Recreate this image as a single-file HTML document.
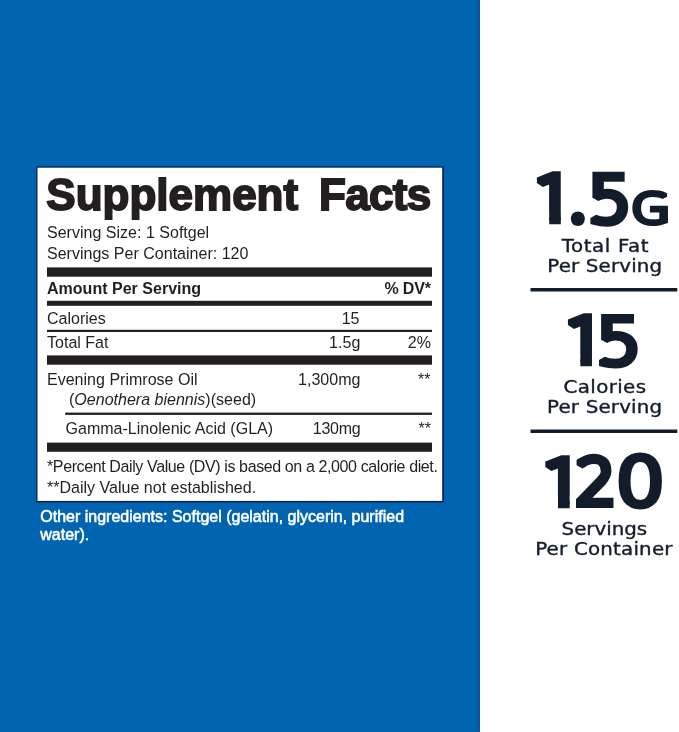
<!DOCTYPE html>
<html lang="en">
<head>
<meta charset="utf-8">
<title>Supplement Facts</title>
<style>
html,body{margin:0;padding:0;}
body{width:679px;height:732px;position:relative;overflow:hidden;background:#ffffff;font-family:"Liberation Sans",sans-serif;}
.blue{position:absolute;left:0;top:0;width:480.2px;height:732px;background:#0064b1;}
.edge{position:absolute;left:475.5px;top:0;width:4.7px;height:732px;background:linear-gradient(90deg,rgba(16,70,140,0) 0%,rgba(16,70,140,0.35) 40%,rgba(16,70,140,0.45) 100%);}
.shapes{position:absolute;left:0;top:0;}
.t{position:absolute;white-space:nowrap;line-height:1;color:#231f20;font-size:16.05px;transform:translateY(-0.35px) scaleY(1.02);transform-origin:0 84.6%;}
.r{text-align:right;}
.b{font-weight:bold;}
.title{transform:scaleY(1.025);font-weight:bold;font-size:44px;-webkit-text-stroke:1.8px #231f20;}
.other{color:#ffffff;font-size:16px;-webkit-text-stroke:0.55px #ffffff;transform:translateY(-0.6px) scaleY(1.08);}
</style>
</head>
<body>
<div class="blue"></div><div class="edge"></div>
<svg class="shapes" width="679" height="732" viewBox="0 0 679 732">
<rect x="36.2" y="166.3" width="407.8" height="336.2" fill="#0b2552"/>
<rect x="37.5" y="167.7" width="404.7" height="333.2" fill="#ffffff"/>
<g fill="#231f20">
<rect x="47" y="267.4" width="385" height="9.3"/>
<rect x="47" y="300.8" width="385" height="5"/>
<rect x="47" y="329.8" width="385" height="2.2"/>
<rect x="47" y="355.4" width="385" height="9.3"/>
<rect x="65.2" y="412.6" width="366.8" height="2.3"/>
<rect x="47" y="442.6" width="385" height="9.2"/>
</g>
<g fill="#131c2b">
<rect x="530.5" y="288" width="146.8" height="3.5"/>
<rect x="530.5" y="429.5" width="146.8" height="3.5"/>
</g>
</svg>

<div class="t title" id="t1" style="left:46.35px;top:173px;">Supplement</div>
<div class="t title" id="t2" style="left:319px;top:173px;letter-spacing:-0.7px;">Facts</div>

<div class="t" id="l1" style="left:47px;top:224.3px;">Serving Size: 1 Softgel</div>
<div class="t" id="l2" style="left:47px;top:244.7px;">Servings Per Container: 120</div>

<div class="t b" id="l3" style="left:47px;top:280.2px;">Amount Per Serving</div>
<div class="t b r" id="l3b" style="right:248.3px;top:280.2px;letter-spacing:-0.2px;">% DV*</div>

<div class="t" id="l4" style="left:47px;top:310px;">Calories</div>
<div class="t r" id="l4b" style="right:319.5px;top:310px;">15</div>
<div class="t" id="l5" style="left:47px;top:334.3px;">Total Fat</div>
<div class="t r" id="l5b" style="right:318.7px;top:334.3px;">1.5g</div>
<div class="t r" id="l5c" style="right:248px;top:334.3px;">2%</div>

<div class="t" id="l6" style="left:47px;top:371px;">Evening Primrose Oil</div>
<div class="t r" id="l6b" style="right:318.6px;top:371px;">1,300mg</div>
<div class="t r" id="l6c" style="right:248.5px;top:371px;">**</div>
<div class="t" id="l7" style="left:69px;top:391px;">(<i>Oenothera biennis</i>)(seed)</div>
<div class="t" id="l8" style="left:65.5px;top:420px;">Gamma-Linolenic Acid (GLA)</div>
<div class="t r" id="l8b" style="right:318.7px;top:420px;letter-spacing:-0.3px;">130mg</div>
<div class="t r" id="l8c" style="right:248px;top:420px;">**</div>

<div class="t" id="l9" style="left:47px;top:458.2px;letter-spacing:-0.4px;">*Percent Daily Value (DV) is based on a 2,000 calorie diet.</div>
<div class="t" id="l10" style="left:47px;top:479.4px;">**Daily Value not established.</div>

<div class="t other" id="o1" style="left:40.3px;top:510px;">Other ingredients: Softgel (gelatin, glycerin, purified</div>
<div class="t other" id="o2" style="left:40.3px;top:528.2px;">water).</div>

<svg class="shapes nums" width="679" height="732" viewBox="0 0 679 732">
<defs><clipPath id="k0"><rect x="507.00" y="141.75" width="90" height="71.26"/><rect x="549.21" y="212.01" width="11.61" height="40"/></clipPath><clipPath id="k1"><ellipse cx="577.85" cy="218.75" rx="7.00" ry="7.30"/></clipPath><clipPath id="k4"><rect x="538.00" y="284.00" width="90" height="71.08"/><rect x="580.34" y="354.08" width="11.63" height="40"/></clipPath><clipPath id="k6"><rect x="515.40" y="425.45" width="90" height="70.97"/><rect x="558.01" y="495.42" width="11.66" height="40"/></clipPath></defs>
<g fill="#131c2b" stroke="#131c2b" stroke-miterlimit="1.5" style="vector-effect:non-scaling-stroke">
<g id="b1"><g clip-path="url(#k0)"><text vector-effect="non-scaling-stroke" transform="translate(534.56,220.33) scale(1.0195,1.0118)" font-family="'DejaVu Sans Light','DejaVu Sans',sans-serif" font-weight="200" font-size="60" stroke-width="8.64" stroke-linejoin="miter">1</text></g><g clip-path="url(#k1)"><text vector-effect="non-scaling-stroke" transform="translate(543.02,224.55) scale(3.6667,3.0933)" font-family="'DejaVu Sans Light','DejaVu Sans',sans-serif" font-weight="200" font-size="60" stroke-width="6.00" stroke-linejoin="miter">.</text></g><text vector-effect="non-scaling-stroke" transform="translate(587.38,221.55) scale(1.1665,1.0541)" font-family="'DejaVu Sans Light','DejaVu Sans',sans-serif" font-weight="200" font-size="60" stroke-width="7.66" stroke-linejoin="miter">5</text><text vector-effect="non-scaling-stroke" transform="translate(631.31,222.51) scale(0.8373,0.6779)" font-family="'DejaVu Sans Light','DejaVu Sans',sans-serif" font-weight="200" font-size="60" stroke-width="5.69" stroke-linejoin="miter">G</text></g>
<g id="b2"><g clip-path="url(#k4)"><text vector-effect="non-scaling-stroke" transform="translate(565.49,362.39) scale(1.0302,1.0074)" font-family="'DejaVu Sans Light','DejaVu Sans',sans-serif" font-weight="200" font-size="60" stroke-width="8.63" stroke-linejoin="miter">1</text></g><text vector-effect="non-scaling-stroke" transform="translate(595.98,363.72) scale(1.1955,1.0551)" font-family="'DejaVu Sans Light','DejaVu Sans',sans-serif" font-weight="200" font-size="60" stroke-width="7.62" stroke-linejoin="miter">5</text></g>
<g id="b3"><g clip-path="url(#k6)"><text vector-effect="non-scaling-stroke" transform="translate(542.73,503.70) scale(1.0522,1.0046)" font-family="'DejaVu Sans Light','DejaVu Sans',sans-serif" font-weight="200" font-size="60" stroke-width="8.60" stroke-linejoin="miter">1</text></g><text vector-effect="non-scaling-stroke" transform="translate(575.54,504.34) scale(1.0600,1.0513)" font-family="'DejaVu Sans Light','DejaVu Sans',sans-serif" font-weight="200" font-size="60" stroke-width="7.82" stroke-linejoin="miter">2</text><text vector-effect="non-scaling-stroke" transform="translate(615.81,505.38) scale(1.2928,1.0916)" font-family="'DejaVu Sans Light','DejaVu Sans',sans-serif" font-weight="200" font-size="60" stroke-width="7.52" stroke-linejoin="miter">0</text></g>
</g>
</svg>


<svg class="shapes labs" width="679" height="732" viewBox="0 0 679 732">
<g font-family="'DejaVu Sans','Liberation Sans',sans-serif" font-size="18.2" fill="#131c2b" stroke="#131c2b" stroke-width="0.4" stroke-linejoin="round" style="vector-effect:non-scaling-stroke">
<text id="c1" vector-effect="non-scaling-stroke" transform="translate(561.65,251.80) scale(1.09,1)" letter-spacing="0.560">Total Fat</text>
<text id="c2" vector-effect="non-scaling-stroke" transform="translate(547.25,271.80) scale(1.09,1)" letter-spacing="0.159">Per Serving</text>
<text id="c3" vector-effect="non-scaling-stroke" transform="translate(563.50,393.00) scale(1.09,1)" letter-spacing="0.361">Calories</text>
<text id="c4" vector-effect="non-scaling-stroke" transform="translate(547.05,413.40) scale(1.09,1)" letter-spacing="0.177">Per Serving</text>
<text id="c5" vector-effect="non-scaling-stroke" transform="translate(561.60,534.80) scale(1.09,1)" letter-spacing="-0.013">Servings</text>
<text id="c6" vector-effect="non-scaling-stroke" transform="translate(535.15,555.10) scale(1.09,1)" letter-spacing="0.196">Per Container</text>
</g>
</svg>
</body>
</html>
